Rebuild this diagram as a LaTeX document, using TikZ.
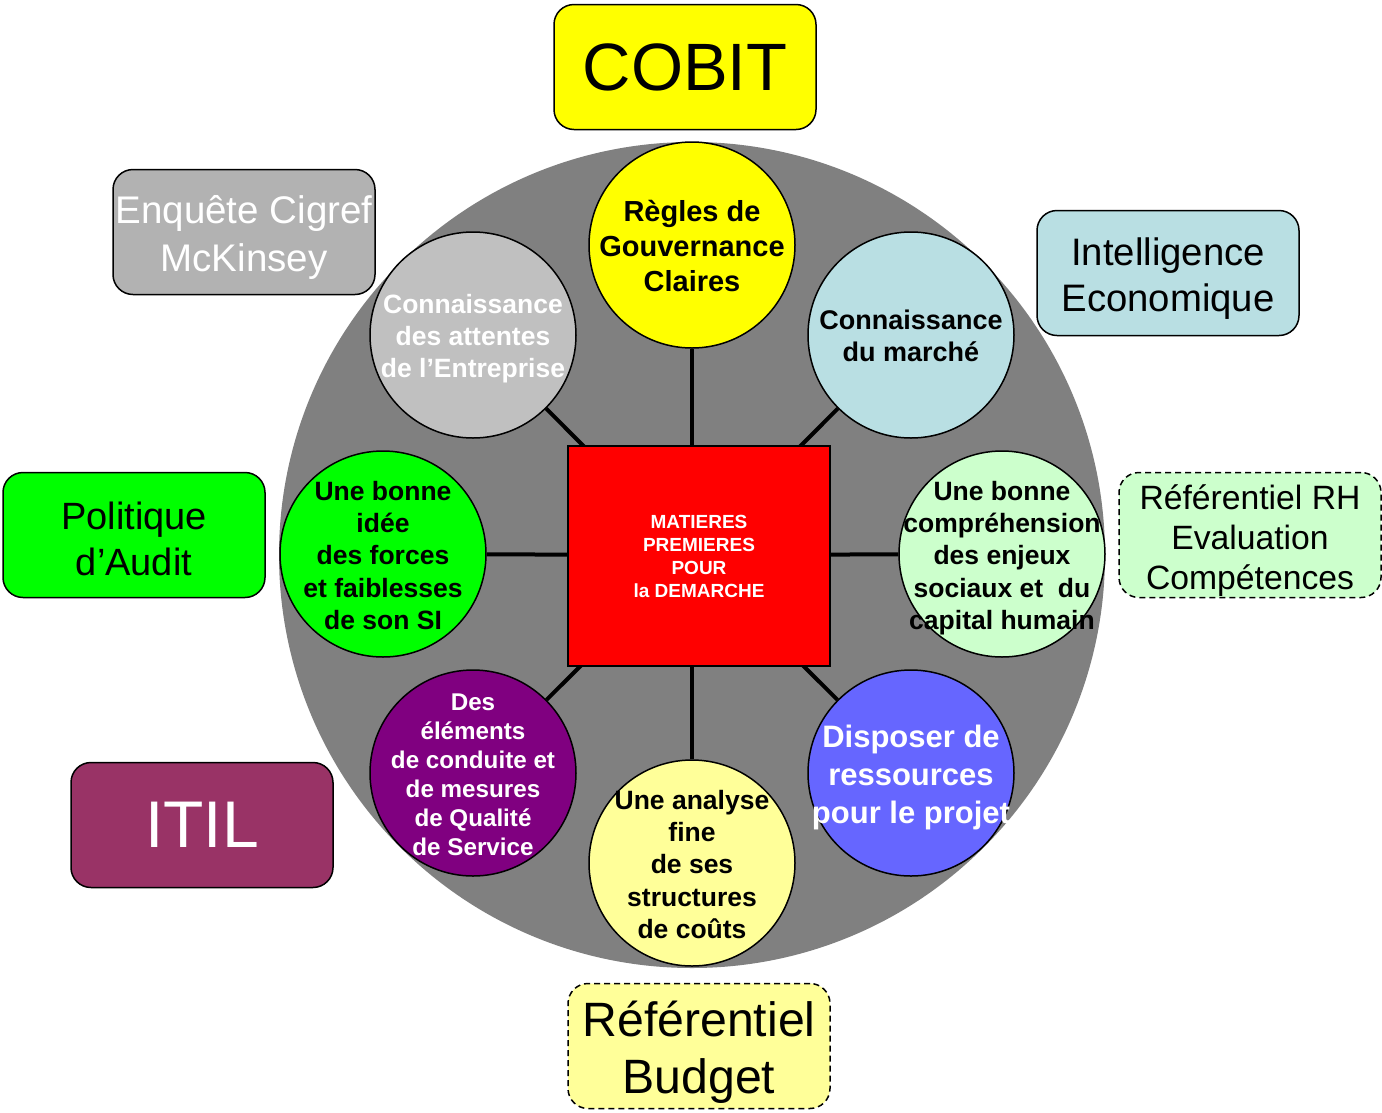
\documentclass[tikz,border=0pt]{standalone}
\usepackage{fontspec}
\setmainfont{Liberation Sans}
\pgfdeclarelayer{back}
\pgfdeclarelayer{mid}
\pgfsetlayers{back,mid,main}
\definecolor{bigGray}{HTML}{808080}
\definecolor{cYellow}{HTML}{FFFF00}
\definecolor{cLGray}{HTML}{C0C0C0}
\definecolor{cLBlue}{HTML}{B9DFE3}
\definecolor{cLGreen}{HTML}{CCFFCC}
\definecolor{cBlue}{HTML}{6666FF}
\definecolor{cLYellow}{HTML}{FFFF99}
\definecolor{cPurple}{HTML}{800080}
\definecolor{cGreen}{HTML}{00FF00}
\definecolor{bGray}{HTML}{B2B2B2}
\definecolor{bPlum}{HTML}{993366}
\definecolor{cRed}{HTML}{FF0000}
\tikzset{
  topic/.style={circle, draw=black, line width=1.5pt, minimum size=206pt, inner sep=0pt},
  ctext/.style={inner sep=0pt, align=center},
  srcbox/.style={draw=black, line width=1.5pt, rounded corners=20pt, minimum width=262pt, minimum height=125pt, inner sep=0pt},
  dashbox/.style={srcbox, dash pattern=on 6pt off 4pt},
  spoke/.style={line width=4pt, black},
}
\begin{document}
\begin{tikzpicture}[x=1pt,y=-1pt]
\useasboundingbox (0,0) rectangle (1382,1112);
\begin{pgfonlayer}{back}
\node[circle, fill=bigGray, minimum size=826pt, inner sep=0pt] (disc) at (692,555) {};
\end{pgfonlayer}
\coordinate (o) at (692,555);
% central square
\node[draw=black, line width=1.5pt, fill=cRed, minimum width=262pt, minimum height=220pt, inner sep=0pt, align=center,
      text=white, font=\bfseries\fontsize{19}{23}\selectfont] (sq) at (699,556)
      {MATIERES\\PREMIERES\\POUR\\la DEMARCHE};
% circles
\node[topic, fill=cYellow]  (c1) at (692,245) {};
\node[topic, fill=cLBlue]   (c2) at (911,335) {};
\node[topic, fill=cLGreen]  (c3) at (1002,554) {};
\node[topic, fill=cBlue]    (c4) at (911,773) {};
\node[topic, fill=cLYellow] (c5) at (692,863) {};
\node[topic, fill=cPurple]  (c6) at (473,773) {};
\node[topic, fill=cGreen]   (c7) at (383,554) {};
\node[topic, fill=cLGray]   (c8) at (473,335) {};
% circle texts
\node[ctext, font=\bfseries\fontsize{29}{35}\selectfont, yshift=-1pt] (t1) at (c1)
  {Règles de\\Gouvernance\\Claires};
\node[ctext, font=\bfseries\fontsize{27}{32}\selectfont, yshift=-1pt] (t2) at (c2)
  {Connaissance\\du marché};
\node[ctext, font=\bfseries\fontsize{26.5}{32.2}\selectfont, yshift=-4pt] (t3) at (c3)
  {Une bonne\\compréhension\\des enjeux\\sociaux et\ \ du\\capital humain};
\node[ctext, text=white, font=\bfseries\fontsize{31}{38}\selectfont, yshift=-4pt] (t4) at (c4)
  {Disposer de\\ressources\\pour le projet};
\node[ctext, font=\bfseries\fontsize{26.5}{32.2}\selectfont, yshift=-1.5pt] (t5) at (c5)
  {Une analyse\\fine\\de ses\\structures\\de coûts};
\node[ctext, text=white, font=\bfseries\fontsize{24.2}{29}\selectfont, yshift=-2pt] (t6) at (c6)
  {Des\\éléments\\de conduite et\\de mesures\\de Qualité\\de Service};
\node[ctext, font=\bfseries\fontsize{26.5}{32.2}\selectfont, yshift=-1.5pt] (t7) at (c7)
  {Une bonne\\idée\\des forces\\et faiblesses\\de son SI};
\node[ctext, text=white, font=\bfseries\fontsize{26.5}{32}\selectfont, yshift=-4pt] (t8) at (c8)
  {Connaissance\\des attentes\\de l’Entreprise};
% spokes
\begin{pgfonlayer}{mid}
\foreach \c in {c1,c2,c3,c4,c5,c6,c7,c8}
  \draw[spoke] (\c) -- (o);
\end{pgfonlayer}
% source boxes
\node[srcbox, fill=cYellow]   (cobit)  at (685,67) {};
\node[srcbox, fill=bGray]     (cigref) at (244,232) {};
\node[srcbox, fill=cLBlue]    (intel)  at (1168,273) {};
\node[srcbox, fill=cGreen]    (audit)  at (134,535) {};
\node[dashbox, fill=cLGreen]  (rh)     at (1250,535) {};
\node[srcbox, fill=bPlum]     (itil)   at (202,825) {};
\node[dashbox, fill=cLYellow] (budget) at (699,1046) {};
\node[ctext, font=\fontsize{67}{77}\selectfont] (cobitT) at (cobit) {COBIT};
\node[ctext, text=white, font=\fontsize{38.5}{48}\selectfont, yshift=-5pt] (cigrefT) at (cigref) {Enquête Cigref\\McKinsey};
\node[ctext, font=\fontsize{38.3}{46}\selectfont, yshift=-6pt] (intelT) at (intel) {Intelligence\\Economique};
\node[ctext, font=\fontsize{38}{46}\selectfont, yshift=-3.5pt] (auditT) at (audit) {Politique\\d’Audit};
\node[ctext, font=\fontsize{33.7}{40}\selectfont, yshift=-6pt] (rhT) at (rh) {Référentiel RH\\Evaluation\\Compétences};
\node[ctext, text=white, font=\fontsize{66}{76}\selectfont] (itilT) at (itil) {ITIL};
\node[ctext, font=\fontsize{48.2}{57}\selectfont, yshift=-6pt] (budgetT) at (budget) {Référentiel\\Budget};
\end{tikzpicture}
\end{document}
